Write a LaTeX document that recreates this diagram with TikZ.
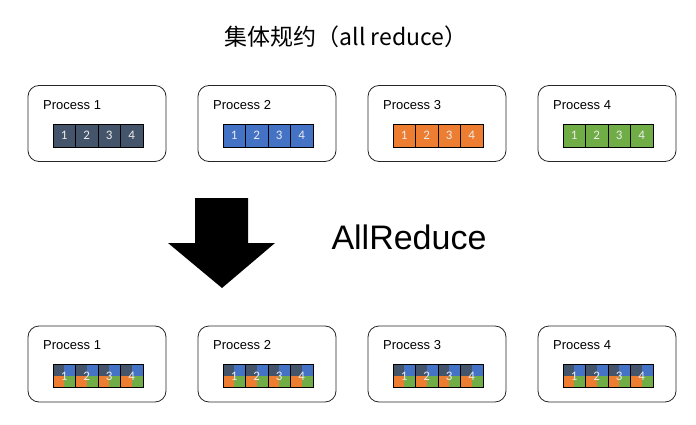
\documentclass[tikz,border=0pt]{standalone}
\usepackage{fontspec}
\setmainfont{Liberation Sans}
\newfontfamily\cjk{Noto Sans CJK SC}
\newfontfamily\numfont{Carlito}
\definecolor{slate}{HTML}{44546A}
\definecolor{ablue}{HTML}{4472C4}
\definecolor{aorange}{HTML}{ED7D31}
\definecolor{agreen}{HTML}{70AD47}
\tikzset{
	proc/.style={draw=black!85, line width=0.8pt, rounded corners=11pt, minimum width=138pt, minimum height=76pt},
	plabel/.style={anchor=west, inner sep=0pt, font=\fontsize{13}{15}\selectfont},
	cell/.style={draw=black, line width=0.6pt, minimum width=22.5pt, minimum height=23pt, inner sep=0pt, text=white!92!black, font=\numfont\fontsize{13}{15}\selectfont}
}
\begin{document}
\begin{tikzpicture}[x=1pt,y=-1pt]
	\useasboundingbox (0,0) rectangle (696,425);
	\node[font=\cjk\fontsize{23}{27}\selectfont](title) at (346,37) {集体规约（all reduce）};

	\node[proc](p1) at (97,123.5) {};\node[plabel](l1) at (43,105) {Process 1};
	\node[proc](p2) at (267,123.5) {};\node[plabel](l2) at (213,105) {Process 2};
	\node[proc](p3) at (437,123.5) {};\node[plabel](l3) at (383,105) {Process 3};
	\node[proc](p4) at (607,123.5) {};\node[plabel](l4) at (553,105) {Process 4};

	\foreach \k/\c in {1/slate,2/ablue,3/aorange,4/agreen}
		\foreach \i in {1,2,3,4}
			\node[cell, fill=\c](c\k\i) at ({64.25+22.5*(\i-1)+170*(\k-1)},135.5) {\i};

	\fill[black](195,198) -- (248,198) -- (248,243) -- (275,243) -- (222,288) -- (168,243) -- (195,243) -- cycle;
	\node[font=\fontsize{34}{38}\selectfont](ar) at (409,237) {AllReduce};

	\node[proc](q1) at (97,364) {};\node[plabel](m1) at (43,345) {Process 1};
	\node[proc](q2) at (267,364) {};\node[plabel](m2) at (213,345) {Process 2};
	\node[proc](q3) at (437,364) {};\node[plabel](m3) at (383,345) {Process 3};
	\node[proc](q4) at (607,364) {};\node[plabel](m4) at (553,345) {Process 4};

	\foreach \k in {1,2,3,4}
		\foreach \i in {1,2,3,4}{
			\pgfmathsetmacro{\x}{64.25+22.5*(\i-1)+170*(\k-1)}
			\fill[slate](\x-11.25,364.5) rectangle (\x,376);
			\fill[ablue](\x,364.5) rectangle (\x+11.25,376);
			\fill[aorange](\x-11.25,376) rectangle (\x,387.5);
			\fill[agreen](\x,376) rectangle (\x+11.25,387.5);
			\node[cell](d\k\i) at (\x,376) {\i};
		}
\end{tikzpicture}
\end{document}
